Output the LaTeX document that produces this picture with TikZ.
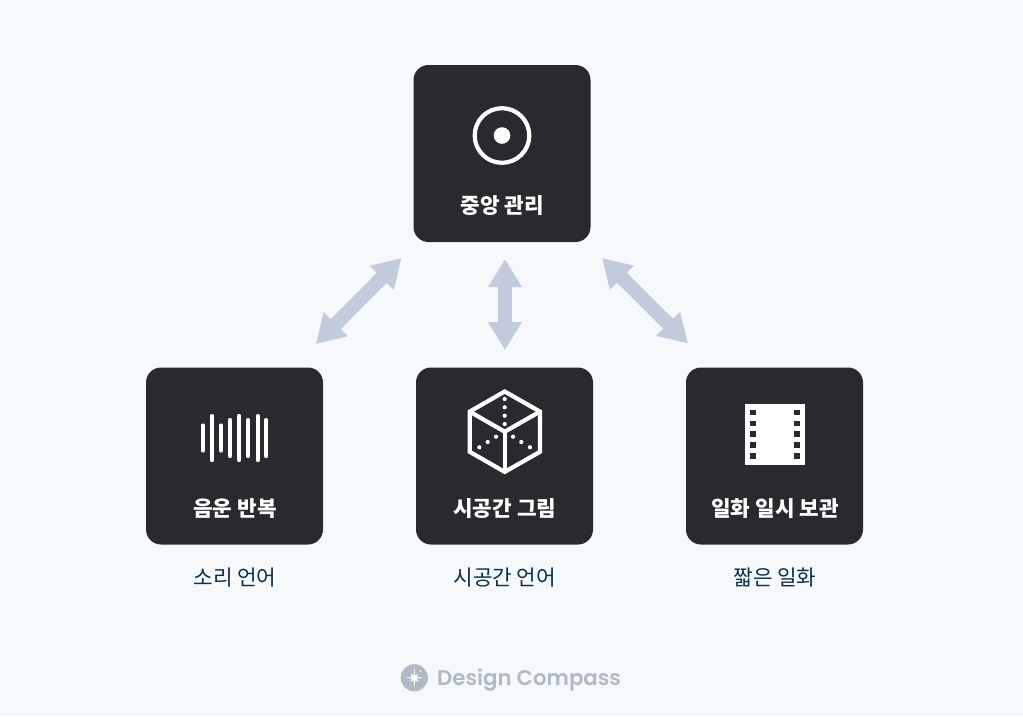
\documentclass[tikz,border=0pt]{standalone}
\usepackage{fontspec}
\usetikzlibrary{arrows.meta}
\newfontfamily\krfont{Noto Sans CJK KR}
\newfontfamily\brandfont{Poppins SemiBold}
\definecolor{pagebg}{HTML}{F5F9FC}
\definecolor{cardbg}{HTML}{2A2A2E}
\definecolor{flowcol}{HTML}{C1CBDB}
\definecolor{subcol}{HTML}{0F2F46}
\definecolor{brandcol}{HTML}{AFBAC4}
\tikzset{
    card/.style={fill=cardbg,rounded corners=15pt,minimum width=177pt,minimum height=177pt,inner sep=0pt},
    cardlabel/.style={text=white,font=\krfont\bfseries\fontsize{21.3}{24}\selectfont,inner sep=0pt},
    sublabel/.style={text=subcol,font=\krfont\fontsize{21.3}{24}\selectfont,inner sep=0pt},
    flow/.style={flowcol,line width=14pt,{Triangle[length=28pt,width=32pt]}-{Triangle[length=28pt,width=32pt]}},
    glyph/.style={white,line width=4.2pt},
}
\begin{document}
\begin{tikzpicture}[x=1pt,y=-1pt]
    \fill[pagebg] (0,0) rectangle (1023,716);
    \useasboundingbox (0,0) rectangle (1023,716);
    \node[card] (central) at (502,153.5) {};
    \node[card] (phono) at (234.5,456) {};
    \node[card] (spatial) at (504.5,456) {};
    \node[card] (episodic) at (774.5,456) {};
    \node[cardlabel] (centralname) at (502.3,205.5) {중앙 관리};
    \node[cardlabel] (phononame) at (235,508.5) {음운 반복};
    \node[cardlabel] (spatialname) at (504.8,508.5) {시공간 그림};
    \node[cardlabel] (episodicname) at (775,508.5) {일화 일시 보관};
    \node[sublabel] (phonosub) at (235,577.5) {소리 언어};
    \node[sublabel] (spatialsub) at (504.8,577.5) {시공간 언어};
    \node[sublabel] (episodicsub) at (775,577.5) {짧은 일화};
    \coordinate (leftup) at (401.5,258);
    \coordinate (leftdown) at (316,344);
    \coordinate (midup) at (505,259);
    \coordinate (middown) at (505,350);
    \coordinate (rightup) at (602,258);
    \coordinate (rightdown) at (688,343.5);
    \draw[flow] (leftup) -- (leftdown);
    \draw[flow] (midup) -- (middown);
    \draw[flow] (rightup) -- (rightdown);
    \draw[glyph] (502,135.5) circle [radius=27.3];
    \fill[white] (502,135.5) circle [radius=8.3];
    \foreach \x/\h in {202.7/12.5,211.7/22,221/12.5,230/18,239.3/22,248.3/18,257.7/22,266.3/18}
        \draw[glyph,line cap=round] (\x,438-\h) -- (\x,438+\h);
    \draw[glyph,line join=miter] (504.7,391.5) -- (540,411.6) -- (540,451.8) -- (504.7,471.9) -- (469.7,451.8) -- (469.7,411.6) -- cycle;
    \draw[glyph] (469.7,411.6) -- (504.7,431.7) -- (540,411.6);
    \draw[glyph] (504.7,431.7) -- (504.7,471.9);
    \foreach \x/\y in {504.7/399,504.7/407.3,504.7/415.7,504.7/424,496/436.7,487.7/442,479.3/447.3,513/436.7,521.3/442,530/447.3}
        \fill[white] (\x,\y) circle [radius=2.1];
    \fill[white] (744.7,404.3) rectangle (804.7,465);
    \foreach \y in {412.3,423.3,434,445,456} {
        \fill[cardbg] (750,\y-2.8) rectangle (755.7,\y+2.8);
        \fill[cardbg] (794,\y-2.8) rectangle (799.7,\y+2.8);
    }
    \fill[brandcol] (414.3,677.8) circle [radius=13.6];
    \fill[white] (414.3,667.5) -- (415.2,676.9) -- (424,677.8) -- (415.2,678.7) -- (414.3,688) -- (413.4,678.7) -- (404.6,677.8) -- (413.4,676.9) -- cycle;
    \fill[white] (410.3,673.8) -- (414.3,675.8) -- (418.3,673.8) -- (416.3,677.8) -- (418.3,681.8) -- (414.3,679.8) -- (410.3,681.8) -- (412.3,677.8) -- cycle;
    \fill[white] (420.5,671) circle [radius=0.9];
    \node[text=brandcol,font=\brandfont\fontsize{21.3}{26}\selectfont,inner sep=0pt,anchor=west] (brandname) at (437,680) {Design Compass};
\end{tikzpicture}
\end{document}
